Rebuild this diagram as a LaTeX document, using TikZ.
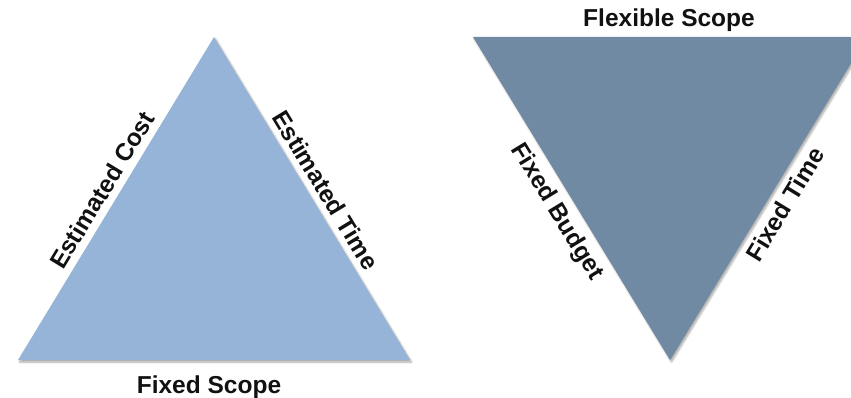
\documentclass[tikz,border=0pt]{standalone}
\usepackage{fontspec}
\setmainfont{Liberation Sans}
\usetikzlibrary{shadows.blur}
\definecolor{lightblue}{HTML}{96B4D8}
\definecolor{slateblue}{HTML}{718AA4}
\definecolor{labelink}{HTML}{111111}
\tikzset{
  tri/.style={blur shadow={shadow xshift=1.5pt, shadow yshift=-2pt, shadow blur steps=6, shadow opacity=35, shadow blur radius=2pt}},
  lbl/.style={font=\bfseries\fontsize{24.5}{28}\selectfont, text=labelink, inner sep=0pt}
}
\begin{document}
\begin{tikzpicture}[x=1pt,y=-1pt]
\useasboundingbox (0,0) rectangle (851,398);
% left triangle
\coordinate (LA) at (214,37);
\coordinate (LB) at (18,360);
\coordinate (LC) at (410,360);
\fill[lightblue, tri] (LA) -- (LC) -- (LB) -- cycle;
% right triangle
\coordinate (RA) at (473,37);
\coordinate (RB) at (867,37);
\coordinate (RC) at (670,360);
\begin{scope}
\clip (0,0) rectangle (851,398);
\fill[slateblue, tri] (RA) -- (RB) -- (RC) -- cycle;
\end{scope}
% labels
\node[lbl, anchor=base] (fixedscope) at (209,393) {Fixed Scope};
\node[lbl, anchor=base] (flexscope) at (669,27) {Flexible Scope};
\path (LB) -- (LA) node[lbl, pos=0.50, sloped, above=7pt] (estcost) {Estimated Cost};
\path (LA) -- (LC) node[lbl, pos=0.50, sloped, above=7pt] (esttime) {Estimated Time};
\path (RA) -- (RC) node[lbl, pos=0.51, sloped, below=8pt] (fixbudget) {Fixed Budget};
\path (RC) -- (RB) node[lbl, pos=0.51, sloped, below=8pt] (fixtime) {Fixed Time};
\end{tikzpicture}
\end{document}
